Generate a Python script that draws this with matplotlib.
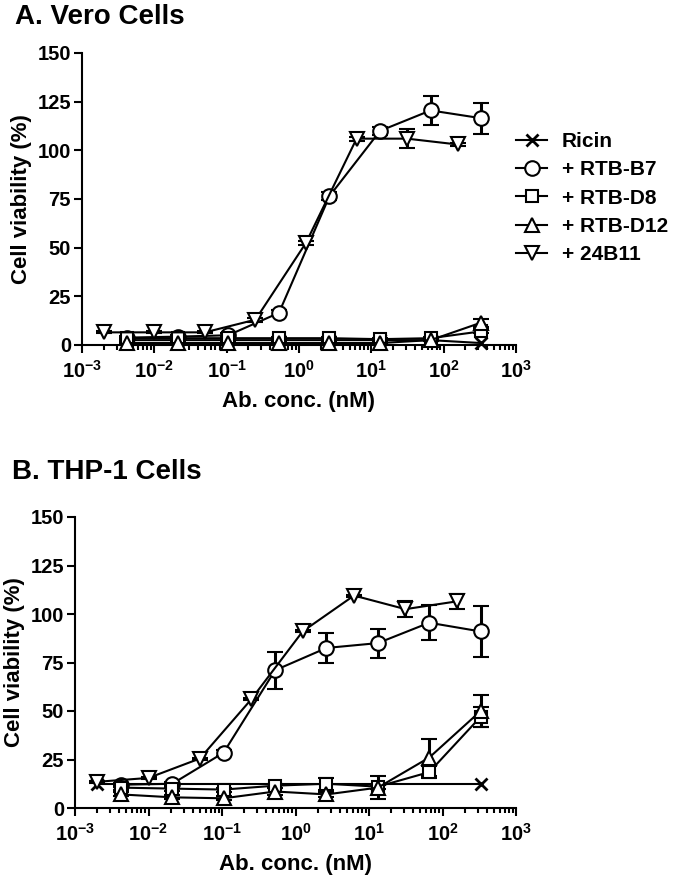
import math
import matplotlib
matplotlib.use("Agg")
import matplotlib.pyplot as plt
from matplotlib.ticker import LogLocator, FixedLocator, FuncFormatter, NullFormatter

plt.rcParams['font.family'] = ['Liberation Sans', 'DejaVu Sans']
plt.rcParams['font.weight'] = 'bold'
plt.rcParams['mathtext.fontset'] = 'custom'
plt.rcParams['mathtext.rm'] = 'Liberation Sans:bold'
plt.rcParams['mathtext.bf'] = 'Liberation Sans:bold'
plt.rcParams['mathtext.default'] = 'bf'

# ---------------- data ----------------
conc_ab = [0.00422, 0.0211, 0.105, 0.528, 2.64, 13.2, 66.0, 330.0]
conc_24b11 = [0.002, 0.01, 0.05, 0.25, 1.25, 6.25, 31.25, 156.0]

series_labels = ["Ricin", "+ RTB-B7", "+ RTB-D8", "+ RTB-D12", "+ 24B11"]

# Panel A: Vero cells
vero_ricin_conc = conc_ab
vero_ricin = [2.5, 2.5, 2.5, 2.5, 2.5, 2.5, 2.5, 1.0]
vero_b7 = [3.8, 4.3, 5.0, 16.5, 76.5, 110.0, 120.5, 116.5]
vero_b7_err = [1.0, 1.0, 1.0, 1.5, 2.0, 2.0, 7.5, 8.0]
vero_d8 = [3.5, 3.5, 3.5, 3.5, 3.5, 3.0, 3.5, 7.0]
vero_d8_err = [0.5, 0.5, 0.5, 0.5, 0.5, 0.5, 0.5, 1.0]
vero_d12 = [1.0, 1.0, 1.0, 1.0, 1.0, 1.0, 2.5, 11.5]
vero_d12_err = [0.5, 0.5, 0.5, 0.5, 0.5, 0.5, 0.5, 2.0]
vero_24b11 = [6.5, 6.5, 6.5, 13.0, 52.5, 106.0, 106.0, 103.0]
vero_24b11_err = [0.5, 0.5, 0.5, 1.0, 1.0, 1.0, 5.0, 1.0]

# Panel B: THP-1 cells
thp_ricin_conc = [0.002, 330.0]
thp_ricin = [12.5, 12.5]
thp_b7 = [12.0, 12.5, 28.5, 71.0, 82.5, 85.0, 95.5, 91.0]
thp_b7_err = [1.0, 1.0, 1.5, 9.5, 7.5, 7.5, 9.0, 13.0]
thp_d8 = [10.5, 10.0, 9.5, 11.5, 12.5, 11.0, 18.5, 47.0]
thp_d8_err = [1.0, 1.0, 1.0, 1.0, 3.0, 1.0, 3.0, 5.0]
thp_d12 = [7.0, 5.5, 5.0, 8.5, 7.0, 10.5, 26.0, 50.0]
thp_d12_err = [1.0, 1.0, 1.0, 2.0, 1.5, 6.0, 9.5, 8.0]
thp_24b11 = [13.5, 15.5, 25.5, 56.0, 91.0, 109.5, 102.5, 106.5]
thp_24b11_err = [0.5, 0.5, 0.5, 0.5, 0.5, 0.5, 4.0, 4.0]

y_ticks = [0, 25, 50, 75, 100, 125, 150]
x_major = [1e-3, 1e-2, 1e-1, 1e0, 1e1, 1e2, 1e3]

# ---------------- figure ----------------
W, H = 683, 883
fig = plt.figure(figsize=(W / 100, H / 100), dpi=100)

def ax_rect(l, r, t, b):
    return [l / W, 1 - b / H, (r - l) / W, (b - t) / H]

LW = 1.5
MS = 10.5

def style_axes(ax):
    ax.set_xscale('log')
    ax.set_xlim(1e-3, 1e3)
    ax.set_ylim(0, 150)
    ax.spines['top'].set_visible(False)
    ax.spines['right'].set_visible(False)
    for s in ('left', 'bottom'):
        ax.spines[s].set_linewidth(LW)
    ax.xaxis.set_major_locator(FixedLocator(x_major))
    ax.xaxis.set_minor_locator(LogLocator(base=10, subs=range(2, 10), numticks=20))
    ax.xaxis.set_minor_formatter(NullFormatter())
    ax.xaxis.set_major_formatter(FuncFormatter(lambda v, p: r'$\mathbf{10^{%d}}$' % round(math.log10(v))))
    ax.yaxis.set_major_locator(FixedLocator(y_ticks))
    ax.tick_params(axis='both', which='major', length=6, width=LW, labelsize=14.5, direction='out', pad=2)
    ax.tick_params(axis='x', which='minor', length=3.5, width=LW, direction='out')
    ax.tick_params(axis='x', which='major', pad=5)
    for lab in ax.get_yticklabels():
        lab.set_fontweight('bold')
    ax.set_ylabel('Cell viability (%)', fontsize=16, fontweight='bold', labelpad=4)
    ax.set_xlabel('Ab. conc. (nM)', fontsize=16, fontweight='bold', labelpad=6)

def draw(ax, ricin_x, ricin_y, b7, b7e, d8, d8e, d12, d12e, b11, b11e):
    handles = []
    h, = ax.plot(ricin_x, ricin_y, color='black', lw=LW, marker='x', ms=8, mew=2, clip_on=False, zorder=3)
    handles.append(h)
    specs = [(conc_ab, b7, b7e, 'o'), (conc_ab, d8, d8e, 's'), (conc_ab, d12, d12e, '^'), (conc_24b11, b11, b11e, 'v')]
    for x, y, e, m in specs:
        ms = MS if m != 's' else MS * 0.85
        eb = ax.errorbar(x, y, yerr=e, color='black', lw=LW, marker=m, ms=ms, mfc='white', mec='black',
                         mew=LW, elinewidth=2.2, capsize=5.5, capthick=2.5, clip_on=False, zorder=4)
        for art in eb.lines[1]:
            art.set_clip_on(False)
        for art in eb.lines[2]:
            art.set_clip_on(False)
        handles.append(eb.lines[0])
    return handles

axA = fig.add_axes(ax_rect(82, 516, 53, 345))
style_axes(axA)
hA = draw(axA, vero_ricin_conc, vero_ricin, vero_b7, vero_b7_err, vero_d8, vero_d8_err,
          vero_d12, vero_d12_err, vero_24b11, vero_24b11_err)

axB = fig.add_axes(ax_rect(75, 516, 517, 808))
style_axes(axB)
draw(axB, thp_ricin_conc, thp_ricin, thp_b7, thp_b7_err, thp_d8, thp_d8_err,
     thp_d12, thp_d12_err, thp_24b11, thp_24b11_err)

fig.text(15 / W, 1 - 17 / H, 'A. Vero Cells', fontsize=20, fontweight='bold', va='center', ha='left')
fig.text(12 / W, 1 - 472 / H, 'B. THP-1 Cells', fontsize=20, fontweight='bold', va='center', ha='left')

leg = fig.legend(hA, series_labels, loc='upper left', bbox_to_anchor=(516 / W, 1 - 132 / H),
                 frameon=False, fontsize=15, handlelength=1.5, handletextpad=0.7, labelspacing=0.45,
                 borderaxespad=0, borderpad=0)
for t in leg.get_texts():
    t.set_fontweight('bold')

fig.savefig('out.png', dpi=100)
